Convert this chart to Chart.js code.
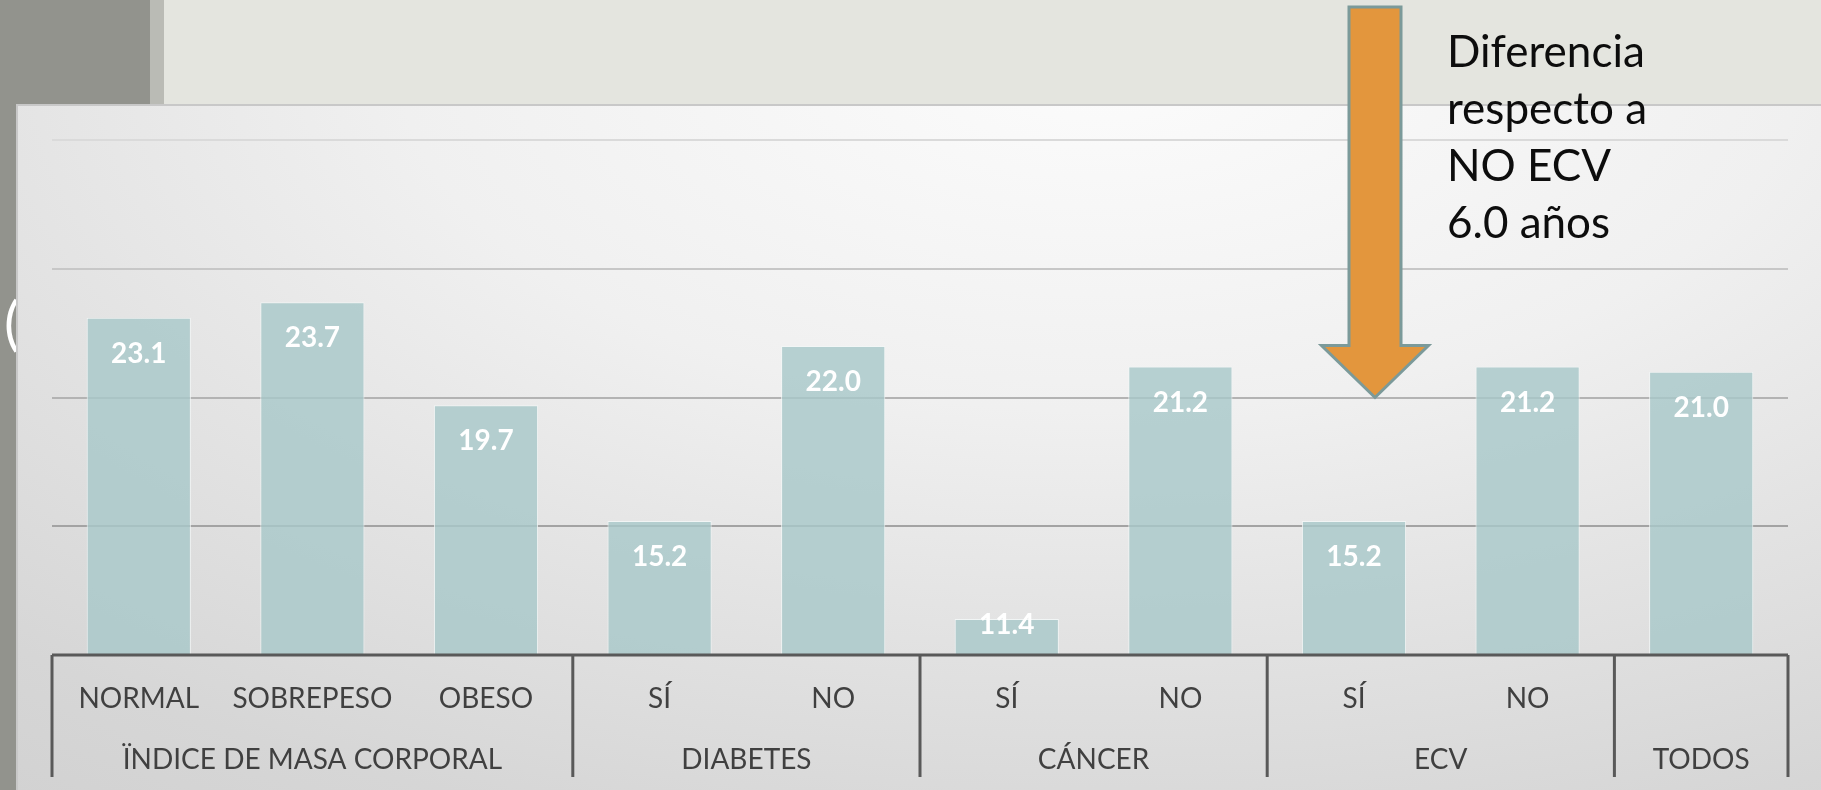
<!DOCTYPE html>
<html>
<head>
<meta charset="utf-8">
<script src="https://cdn.jsdelivr.net/npm/chart.js@4.4.0/dist/chart.umd.min.js"></script>
<style>
  html, body { margin: 0; padding: 0; overflow: hidden; background: #e4e5df; }
  #wrap { width: 1821px; height: 790px; position: relative; }
</style>
</head>
<body>
<div id="wrap"><canvas id="chart"></canvas></div>
<script>
// ----------------------------
// DATA
// ----------------------------
const categories = ['NORMAL', 'SOBREPESO', 'OBESO', 'SÍ', 'NO', 'SÍ', 'NO', 'SÍ', 'NO', ''];
const values = [23.1, 23.7, 19.7, 15.2, 22.0, 11.4, 21.2, 15.2, 21.2, 21.0];
const groupNames = ['ÏNDICE DE MASA CORPORAL', 'DIABETES', 'CÁNCER', 'ECV', 'TODOS'];
const groupSizes = [3, 2, 2, 2, 1];
const yTicks = [10, 15, 20, 25, 30];
const noteLines = ['Diferencia', 'respecto a', 'NO ECV', '6.0 años'];

const FONT = 'Lato, "Open Sans", sans-serif';
const gridColors = { 15: '#a3a3a3', 20: '#b3b3b3', 25: '#c7c7c7', 30: '#dadada' };

// ----------------------------
// SLIDE BACKGROUND + PANEL
// ----------------------------
const backdrop = {
  id: 'backdrop',
  beforeDraw(chart) {
    const ctx = chart.ctx;
    const W = chart.width, H = chart.height;
    ctx.save();
    ctx.fillStyle = '#e4e5df';
    ctx.fillRect(0, 0, W, H);
    ctx.fillStyle = '#92938d';
    ctx.fillRect(0, 0, 150, H);
    ctx.fillStyle = '#babbb5';
    ctx.fillRect(150, 0, 14, H);

    // stray title char peeking from behind the panel
    ctx.fillStyle = '#ffffff';
    ctx.font = '58px ' + FONT;
    ctx.textBaseline = 'alphabetic';
    ctx.fillText('(', 4, 344);

    // panel with soft radial shading
    const px = 17, py = 105;
    const cx = 1100, cy = 60;
    ctx.save();
    ctx.translate(cx, cy);
    ctx.scale(2, 1);
    const g = ctx.createRadialGradient(0, 0, 0, 0, 0, 1000);
    g.addColorStop(0, '#fcfcfc');
    g.addColorStop(0.35, '#f0f0f0');
    g.addColorStop(0.55, '#e4e4e4');
    g.addColorStop(0.8, '#d6d6d6');
    g.addColorStop(1, '#cfcfcf');
    ctx.fillStyle = g;
    ctx.fillRect((px - cx) / 2, py - cy, (W - px) / 2 + 10, H - py + 10);
    ctx.restore();

    ctx.strokeStyle = '#c8c8c8';
    ctx.lineWidth = 2;
    ctx.beginPath();
    ctx.moveTo(px, H + 5);
    ctx.lineTo(px, py);
    ctx.lineTo(W + 5, py);
    ctx.stroke();
    ctx.restore();
  }
};

// ----------------------------
// VALUE LABELS INSIDE BARS
// ----------------------------
const valueLabels = {
  id: 'valueLabels',
  afterDatasetsDraw(chart) {
    const ctx = chart.ctx;
    const meta = chart.getDatasetMeta(0);
    const floor = chart.scales.y.bottom;
    ctx.save();
    ctx.fillStyle = '#ffffff';
    ctx.font = 'bold 28px ' + FONT;
    ctx.textAlign = 'center';
    ctx.textBaseline = 'alphabetic';
    meta.data.forEach((bar, i) => {
      const y = Math.min(bar.y + 45, floor - 21);
      ctx.fillText(values[i].toFixed(1), bar.x, y);
    });
    ctx.restore();
  }
};

// ----------------------------
// GROUPED AXIS TABLE + NOTE ARROW
// ----------------------------
const axisTable = {
  id: 'axisTable',
  afterDraw(chart) {
    const ctx = chart.ctx;
    const x = chart.scales.x;
    const y = chart.scales.y;
    const area = chart.chartArea;
    const cw = x.getPixelForValue(1) - x.getPixelForValue(0);
    const bottom = area.bottom + 122;

    ctx.save();
    ctx.strokeStyle = '#595959';
    ctx.lineWidth = 3;
    ctx.beginPath();
    ctx.moveTo(area.left, area.bottom);
    ctx.lineTo(area.right, area.bottom);
    ctx.stroke();

    let idx = 0;
    const edges = [x.getPixelForValue(0) - cw / 2];
    groupSizes.forEach(n => {
      idx += n;
      edges.push(x.getPixelForValue(idx - 1) + cw / 2);
    });
    edges.forEach(e => {
      ctx.beginPath();
      ctx.moveTo(e, area.bottom);
      ctx.lineTo(e, bottom);
      ctx.stroke();
    });

    ctx.fillStyle = '#404040';
    ctx.font = '28px ' + FONT;
    ctx.textAlign = 'center';
    ctx.textBaseline = 'alphabetic';
    groupNames.forEach((name, i) => {
      ctx.fillText(name, (edges[i] + edges[i + 1]) / 2, area.bottom + 114);
    });

    // arrow pointing at the ECV "SÍ" bar
    const tipX = x.getPixelForValue(7) + 21;
    const tipY = y.getPixelForValue(20);
    const top = 7, headH = 52, shaftW = 26, headW = 53.5;
    ctx.beginPath();
    ctx.moveTo(tipX - shaftW, top);
    ctx.lineTo(tipX + shaftW, top);
    ctx.lineTo(tipX + shaftW, tipY - headH);
    ctx.lineTo(tipX + headW, tipY - headH);
    ctx.lineTo(tipX, tipY);
    ctx.lineTo(tipX - headW, tipY - headH);
    ctx.lineTo(tipX - shaftW, tipY - headH);
    ctx.closePath();
    ctx.fillStyle = '#e3963d';
    ctx.fill();
    ctx.strokeStyle = '#7b9a9a';
    ctx.lineWidth = 3;
    ctx.stroke();

    ctx.fillStyle = '#0d0d0d';
    ctx.font = '44px ' + FONT;
    ctx.textAlign = 'left';
    noteLines.forEach((line, i) => {
      ctx.fillText(line, tipX + 72, 67 + i * 57);
    });
    ctx.restore();
  }
};

// ----------------------------
// CHART
// ----------------------------
new Chart(document.getElementById('chart'), {
  type: 'bar',
  data: {
    labels: categories,
    datasets: [{
      data: values,
      backgroundColor: 'rgba(168,200,201,0.82)',
      borderColor: 'rgba(242,246,246,0.9)',
      borderWidth: 1,
      barPercentage: 0.6,
      categoryPercentage: 1.0
    }]
  },
  options: {
    responsive: true,
    maintainAspectRatio: false,
    animation: false,
    layout: { padding: { left: 52, right: 33, top: 140, bottom: 0 } },
    plugins: { legend: { display: false }, tooltip: { enabled: false } },
    scales: {
      x: {
        grid: { display: false, drawTicks: false },
        border: { display: false },
        ticks: {
          color: '#404040',
          font: { family: FONT, size: 28 },
          padding: 27,
          autoSkip: false,
          maxRotation: 0
        },
        afterFit(s) { s.height = 135; }
      },
      y: {
        min: yTicks[0],
        max: yTicks[yTicks.length - 1],
        ticks: { display: false, stepSize: yTicks[1] - yTicks[0] },
        grid: {
          drawTicks: false,
          lineWidth: 2,
          color: c => gridColors[c.tick && c.tick.value] || 'rgba(0,0,0,0)'
        },
        border: { display: false },
        afterFit(s) { s.width = 0; }
      }
    }
  },
  plugins: [backdrop, valueLabels, axisTable]
});
</script>
</body>
</html>
